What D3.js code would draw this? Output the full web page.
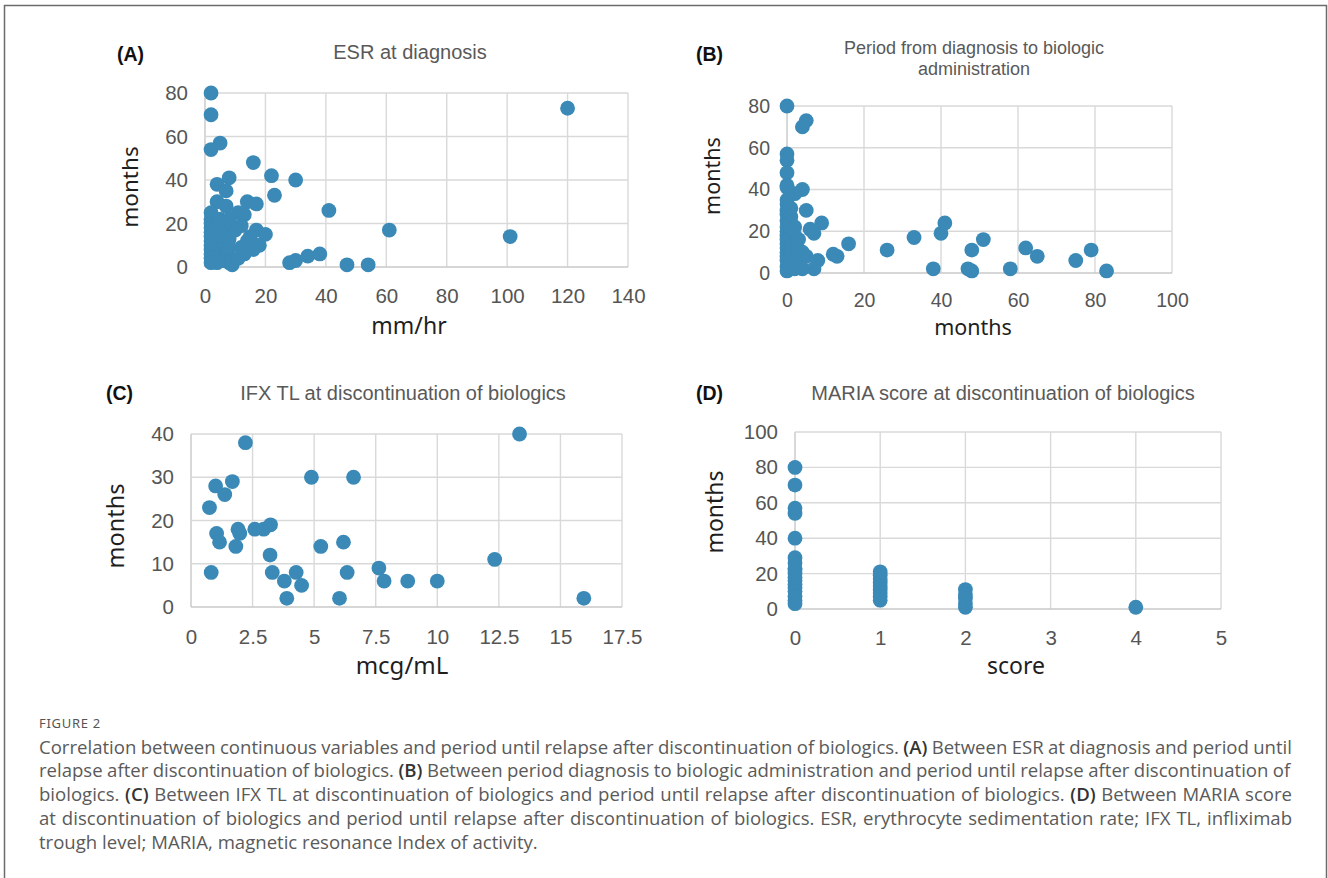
<!DOCTYPE html>
<html><head><meta charset="utf-8">
<script src="https://cdn.jsdelivr.net/npm/d3@7"></script>
<style>body{margin:0;background:#fff}svg{display:block}</style>
</head><body>
<svg id="c" width="1328" height="878"></svg>
<script>
// ---------- DATA ----------
// (A) ESR at diagnosis (mm/hr) vs months until relapse
const esrValue  = [2,2,5,2,16,22,30,8,4,7, 23,4,14,17,7,41,2,11,13,2, 2,2,2,2,2,2,2,2,2,2, 5,6,7,8,5,7,8,5,6,8, 5,7,4,6,8,9,4,12,10,17, 20,15,14,18,16,13,11,12,61,101, 120,28,30,34,38,47,54];
const esrMonths = [80,70,57,54,48,42,40,41,38,35, 33,30,30,29,28,26,25,25,24,22, 20,18,16,14,12,10,8,6,4,2, 22,19,21,22,16,15,13,12,10,9, 8,6,4,3,2,1,2,19,17,17, 15,14,12,10,8,6,4,9,17,14, 73,2,3,5,6,1,1];
const esrTicksX = [0,20,40,60,80,100,120,140];
const esrTicksY = [0,20,40,60,80];

// (B) Period from diagnosis to biologic administration (months)
const delayMonths = [0,5,4,0,0,0,0,0,4,2, 0,0,0,0,0,0,0,0,0,0, 0,0,0,0,0,0,1,1,1,2, 1,2,1,2,1,2,1,2,1,2, 1,2,3,3,4,5,4,5,9,6, 7,12,13,16,8,7,26,33,38,40, 41,47,48,48,51,58,62,65,75,79,83];
const delayRelapse = [80,73,70,57,54,48,42,41,40,38, 35,33,30,28,25,22,20,18,16,14, 12,10,8,6,3,1,31,27,24,22, 20,18,17,15,13,12,10,9,7,5, 3,2,16,11,10,8,2,30,24,21, 19,9,8,14,6,2,11,17,2,19, 24,2,1,11,16,2,12,8,6,11,1];
const delayTicksX = [0,20,40,60,80,100];
const delayTicksY = [0,20,40,60,80];

// (C) IFX TL at discontinuation (mcg/mL)
const ifxLevel  = [0.75,1.0,1.37,1.68,2.21,0.82,1.04,1.16,1.82,1.91, 1.98,2.59,2.95,3.23,3.21,3.3,3.79,3.89,4.27,4.49, 4.89,5.27,6.03,6.19,6.34,6.6,7.63,7.84,8.8,10.0, 12.33,13.34,15.95];
const ifxMonths = [23,28,26,29,38,8,17,15,14,18, 17,18,18,19,12,8,6,2,8,5, 30,14,2,15,8,30,9,6,6,6, 11,40,2];
const ifxTicksX = [0,2.5,5,7.5,10,12.5,15,17.5];
const ifxTicksY = [0,10,20,30,40];

// (D) MARIA score at discontinuation
const mariaScore  = [0,0,0,0,0,0,0,0,0,0,0,0,0,0,0,0,0,0, 1,1,1,1,1,1,1,1,1, 2,2,2,2,2, 4];
const mariaMonths = [80,70,57,54,40,29,26,23,22,20,18,16,14,12,10,7,5,3, 21,19,17,15,13,11,9,7,5, 11,8,6,3,1, 1];
const mariaTicksX = [0,1,2,3,4,5];
const mariaTicksY = [0,20,40,60,80,100];

const captionHead = "FIGURE 2";
const captionLines = [
 "Correlation between continuous variables and period until relapse after discontinuation of biologics. (A) Between ESR at diagnosis and period until",
 "relapse after discontinuation of biologics. (B) Between period diagnosis to biologic administration and period until relapse after discontinuation of",
 "biologics. (C) Between IFX TL at discontinuation of biologics and period until relapse after discontinuation of biologics. (D) Between MARIA score",
 "at discontinuation of biologics and period until relapse after discontinuation of biologics. ESR, erythrocyte sedimentation rate; IFX TL, infliximab",
 "trough level; MARIA, magnetic resonance Index of activity."
];

// ---------- DRAW ----------
const svg = d3.select("#c");
const ARIAL = "'Liberation Sans', Arial, sans-serif";
const NOTO = "'Noto Sans', sans-serif";
const DOT = "#3a89b7";

svg.append("path").attr("d","M4.5,878V5.5H1326.5V878").attr("fill","none").attr("stroke","#6b6b6b").attr("stroke-width",1.5);

const panels = [
 {tag:"(A)", tagX:117, tagY:61, title:["ESR at diagnosis"], titleX:410, titleY:[59], titleSize:20,
  xs:esrValue, ys:esrMonths, xt:esrTicksX, yt:esrTicksY, xr:[205,628], yr:[267,93], tickSize:20.5,
  xLabel:"mm/hr", xLabelX:409, xLabelY:334, xLabelSize:23, yLabel:"months", yLabelX:130, yLabelY:187, yLabelSize:22.5, xPad:21},
 {tag:"(B)", tagX:696, tagY:61, title:["Period from diagnosis to biologic","administration"], titleX:974, titleY:[54,75], titleSize:18,
  xs:delayMonths, ys:delayRelapse, xt:delayTicksX, yt:delayTicksY, xr:[787,1172], yr:[273,106], tickSize:19.5,
  xLabel:"months", xLabelX:973, xLabelY:335, xLabelSize:21.5, yLabel:"months", yLabelX:712, yLabelY:176, yLabelSize:21.5, xPad:20},
 {tag:"(C)", tagX:106, tagY:400, title:["IFX TL at discontinuation of biologics"], titleX:403, titleY:[400], titleSize:20,
  xs:ifxLevel, ys:ifxMonths, xt:ifxTicksX, yt:ifxTicksY, xr:[191,622], yr:[607,434], tickSize:20.5,
  xLabel:"mcg/mL", xLabelX:402, xLabelY:674, xLabelSize:24, yLabel:"months", yLabelX:116, yLabelY:526, yLabelSize:23.5, xPad:22},
 {tag:"(D)", tagX:696, tagY:400, title:["MARIA score at discontinuation of biologics"], titleX:1003, titleY:[400], titleSize:20,
  xs:mariaScore, ys:mariaMonths, xt:mariaTicksX, yt:mariaTicksY, xr:[795,1221], yr:[609,432], tickSize:20.5,
  xLabel:"score", xLabelX:1016, xLabelY:674, xLabelSize:23, yLabel:"months", yLabelX:715, yLabelY:512, yLabelSize:23, xPad:21}
];

panels.forEach(p => {
  const g = svg.append("g");
  const x = d3.scaleLinear().domain([p.xt[0], p.xt[p.xt.length-1]]).range(p.xr);
  const y = d3.scaleLinear().domain([p.yt[0], p.yt[p.yt.length-1]]).range(p.yr);

  g.selectAll(".gx").data(p.xt).join("line")
    .attr("x1", d => x(d)).attr("x2", d => x(d)).attr("y1", p.yr[0]).attr("y2", p.yr[1])
    .attr("stroke", (d,i) => i===0 ? "#c8c8c8" : "#d9d9d9").attr("stroke-width", 1.4);
  g.selectAll(".gy").data(p.yt).join("line")
    .attr("y1", d => y(d)).attr("y2", d => y(d)).attr("x1", p.xr[0]).attr("x2", p.xr[1])
    .attr("stroke", (d,i) => i===0 ? "#c8c8c8" : "#d9d9d9").attr("stroke-width", 1.4);

  const fmt = d3.format("~g");
  const ax = g.append("g").attr("transform", `translate(0,${p.yr[0]})`)
    .call(d3.axisBottom(x).tickValues(p.xt).tickFormat(fmt).tickSize(0).tickPadding(p.xPad));
  const ay = g.append("g").attr("transform", `translate(${p.xr[0]},0)`)
    .call(d3.axisLeft(y).tickValues(p.yt).tickFormat(fmt).tickSize(0).tickPadding(17));
  [ax, ay].forEach(a => {
    a.select(".domain").remove();
    a.selectAll("text").attr("font-family", ARIAL).attr("font-size", p.tickSize).attr("fill", "#555");
  });

  g.selectAll("circle").data(p.xs.map((v,i) => [v, p.ys[i]])).join("circle")
    .attr("cx", d => x(d[0])).attr("cy", d => y(d[1])).attr("r", 7.4).attr("fill", DOT);

  g.append("text").attr("x", p.tagX).attr("y", p.tagY).text(p.tag)
    .attr("font-family", ARIAL).attr("font-weight", "bold").attr("font-size", 19.5).attr("fill", "#111");
  p.title.forEach((t,i) => g.append("text").attr("x", p.titleX).attr("y", p.titleY[i]).attr("text-anchor","middle")
    .attr("font-family", ARIAL).attr("font-size", p.titleSize).attr("fill", "#595959").text(t));
  g.append("text").attr("x", p.xLabelX).attr("y", p.xLabelY).attr("text-anchor","middle")
    .attr("font-family", NOTO).attr("font-size", p.xLabelSize).attr("fill", "#1e1e1e").text(p.xLabel);
  g.append("text").attr("transform", `translate(${p.yLabelX},${p.yLabelY}) rotate(-90)`).attr("dy","0.36em")
    .attr("text-anchor","middle").attr("font-family", NOTO).attr("font-size", p.yLabelSize).attr("fill", "#1e1e1e").text(p.yLabel);
});

// caption
svg.append("text").attr("x", 39).attr("y", 728).text(captionHead)
  .attr("font-family", NOTO).attr("font-size", 13).attr("letter-spacing", 0.7).attr("fill", "#555");
const cap = svg.append("g").attr("font-family", "'Open Sans', sans-serif").attr("font-size", 16).attr("fill", "#5a5a5a");
// fit font so the last (unjustified) line spans the same width as in the reference
const probe = cap.append("text").text(captionLines[captionLines.length-1]);
const capSize = 16 * 499 / probe.node().getBBox().width;
probe.remove();
cap.attr("font-size", capSize);
const capBase = [754, 777, 801, 825, 849];
captionLines.forEach((line, i) => {
  const t = cap.append("text").attr("x", 39).attr("y", capBase[i]);
  line.split(/(\([A-D]\))/).forEach(part => {
    if (!part) return;
    const ts = t.append("tspan").text(part);
    if (/^\([A-D]\)$/.test(part)) ts.attr("font-weight", 600).attr("fill", "#333");
  });
  if (i < captionLines.length - 1) {
    const w = t.node().getBBox().width;
    const n = (line.match(/ /g) || []).length;
    t.attr("word-spacing", ((1292 - 39) - w) / n);
  }
});
</script>
</body></html>
